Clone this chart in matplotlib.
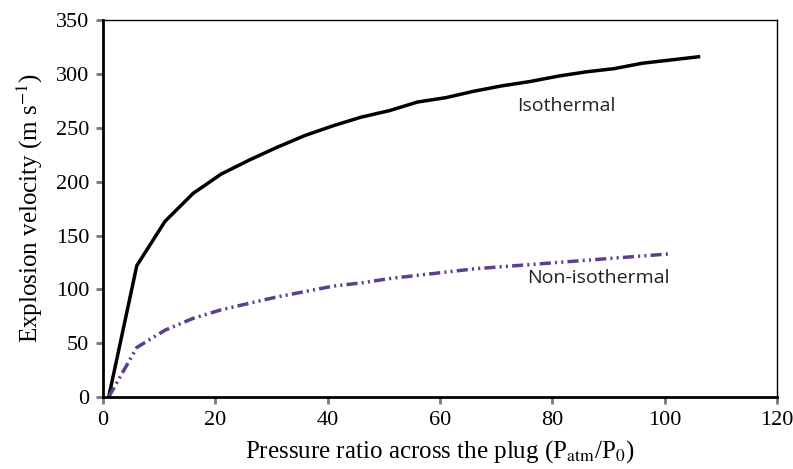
import matplotlib
matplotlib.use('Agg')
import matplotlib.pyplot as plt

# pressure ratio values (every 5 from 1)
ratio_iso = [1, 6, 11, 16, 21, 26, 31, 36, 41, 46, 51, 56, 61, 66, 71, 76, 81, 86, 91, 96, 101, 106]
vel_iso = [0, 122, 163, 189, 207, 220, 232, 243, 252, 260, 266, 274, 278, 284, 289, 293, 298, 302, 305, 310, 313, 316]

ratio_non = [1, 6, 11, 16, 21, 26, 31, 36, 41, 46, 51, 56, 61, 66, 71, 76, 81, 86, 91, 96, 101]
vel_non = [0, 46, 62, 73, 81, 87, 93, 98, 103, 106, 110, 113, 116, 119, 121, 123, 125, 127, 129, 131, 133]

xticks = [0, 20, 40, 60, 80, 100, 120]
yticks = [0, 50, 100, 150, 200, 250, 300, 350]

plt.rcParams['font.family'] = ['Liberation Serif', 'DejaVu Serif']
plt.rcParams['mathtext.fontset'] = 'stix'

fig = plt.figure(figsize=(7.93, 4.69), dpi=100)
ax = fig.add_axes([0.130, 0.1535, 0.850, 0.8035])

ax.plot(ratio_iso, vel_iso, color='black', lw=2.5)
ax.plot(ratio_non, vel_non, color='#5e3f8f', lw=2.5, dashes=[3.2, 1.2, 0.6, 1.2, 0.6, 1.2])

ax.set_xlim(0, 120)
ax.set_ylim(0, 350)
ax.set_xticks(xticks)
ax.set_yticks(yticks)
ax.tick_params(labelsize=16, length=5, width=2, color='#777777', direction='out', pad=5)

for s in ['left', 'bottom']:
    ax.spines[s].set_linewidth(2)
for s in ['top', 'right']:
    ax.spines[s].set_linewidth(1)

ax.set_xlabel('Pressure ratio across the plug (P$_{\\mathrm{atm}}$/P$_0$)', fontsize=18, labelpad=6)
ax.set_ylabel('Explosion velocity (m s$^{-1}$)', fontsize=18, labelpad=8)

ax.text(73.7, 266, 'Isothermal', fontsize=14, family='Open Sans', color='#222222', va='baseline')
ax.text(75.5, 106, 'Non-isothermal', fontsize=14, family='Open Sans', color='#222222', va='baseline')

fig.savefig('out.png', dpi=100)
